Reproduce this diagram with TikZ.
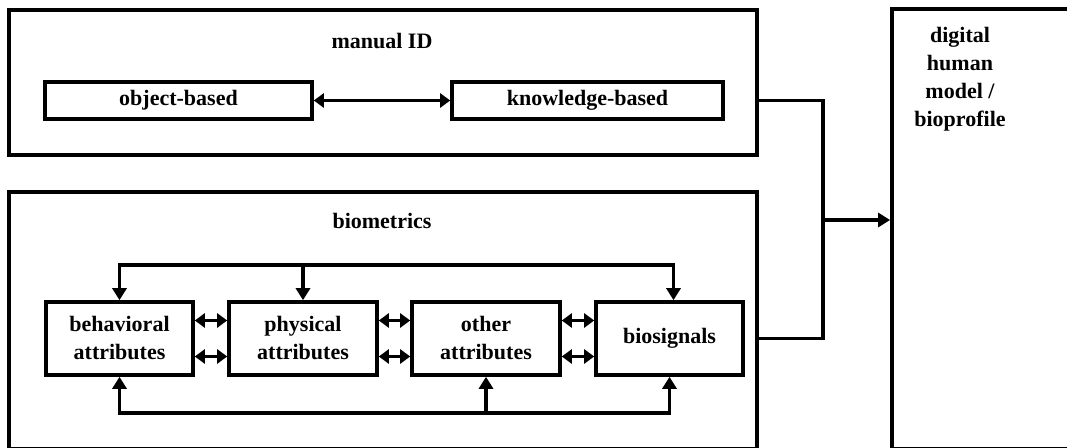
\documentclass[tikz,border=0pt]{standalone}
\usepackage{fontspec}
\setmainfont{Liberation Serif}
\usetikzlibrary{positioning,arrows.meta,calc}

\begin{document}
\begin{tikzpicture}[
  x=0.5pt, y=-0.5pt,
  font=\fontsize{11}{14}\selectfont\bfseries,
  group/.style={draw, line width=1.9pt, inner sep=0pt},
  block/.style={draw, line width=1.8pt, align=center, inner sep=2pt},
  title/.style={align=center, inner sep=0pt},
  arr/.style={-{Triangle[length=6pt,width=7pt]}, line width=1.8pt},
  dbl/.style={{Triangle[length=5pt,width=7pt]}-{Triangle[length=5pt,width=7pt]}, line width=1.8pt}
]
  \useasboundingbox (0,0) rectangle (1067,448);
  \clip (0,0) rectangle (1067,448);

  % outer groups
  \node[group, minimum width=374pt, minimum height=72.5pt] (manual) at (383,82.5) {};
  \node[group, minimum width=374pt, minimum height=128.5pt] (biomet) at (383,320.5) {};
  \node[group, minimum width=91.5pt, minimum height=220pt] (dhm) at (983.5,229) {};

  \node[title] (manuallbl) at (382,41) {manual ID};
  \node[title] (biometlbl) at (382,221) {biometrics};
  \node[title, anchor=north] (dhmlbl) at (960,27) {digital\\human\\model /\\bioprofile};

  % manual ID
  \node[block, minimum width=133.5pt, minimum height=18.5pt] (obj) at (178.5,100.5) {object-based};
  \node[block, minimum width=135.5pt, minimum height=18.5pt] (know) at (587.5,100.5) {knowledge-based};
  \draw[dbl] (obj) -- (know);

  % biometrics
  \node[block, minimum width=73.5pt, minimum height=36.5pt] (beh) at (119.5,338.5) {behavioral\\attributes};
  \node[block, minimum width=74pt, minimum height=36.5pt] (phys) at (303,338.5) {physical\\attributes};
  \node[block, minimum width=74pt, minimum height=36.5pt] (oth) at (486,338.5) {other\\attributes};
  \node[block, minimum width=73.5pt, minimum height=36.5pt] (bios) at (669.5,338.5) {biosignals};

  \foreach \a/\b in {beh/phys, phys/oth, oth/bios} {
    \draw[dbl] ([yshift=9pt]\a.east) -- ([yshift=9pt]\b.west);
    \draw[dbl] ([yshift=-9pt]\a.east) -- ([yshift=-9pt]\b.west);
  }

  \coordinate (topbus) at (303,265);
  \coordinate (botbus) at (486,413);
  \draw[arr] (topbus) -| (beh.north);
  \draw[arr] (topbus) -- (phys.north);
  \draw[arr] (topbus) -| ([xshift=2pt]bios.north);
  \draw[arr] (botbus) -| (beh.south);
  \draw[arr] (botbus) -- (oth.south);
  \draw[arr] (botbus) -| (bios.south);

  % into the human model
  \coordinate (merge) at (823,220);
  \draw[line width=1.8pt] (manual.east |- know) -| (merge);
  \draw[line width=1.8pt] (biomet.east |- bios) -| (merge);
  \draw[arr] (merge) -- (merge -| dhm.west);
\end{tikzpicture}
\end{document}
